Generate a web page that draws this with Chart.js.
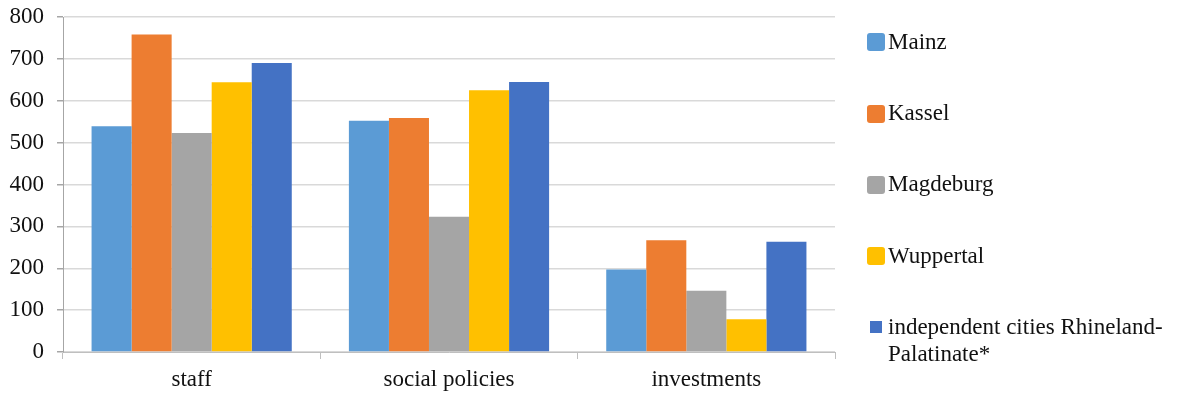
<!DOCTYPE html>
<html>
<head>
<meta charset="utf-8">
<script src="https://cdn.jsdelivr.net/npm/chart.js@4/dist/chart.umd.min.js"></script>
<style>
  html, body { margin: 0; padding: 0; background: #fff; }
  #wrap { position: relative; width: 1179px; height: 399px; }
  #c { position: absolute; left: 0; top: 0; }
  .sw { position: absolute; border-radius: 3px; }
  .tx { position: absolute; left: 888px; font-family: 'Liberation Serif', 'Times New Roman', serif; font-size: 23px; color: #111; line-height: 26px; white-space: nowrap; }
</style>
</head>
<body>
<div id="wrap">
  <canvas id="c" width="1179" height="399"></canvas>
  <div id="legend"></div>
</div>
<script>
const categories = ['staff', 'social policies', 'investments'];
const seriesNames = ['Mainz', 'Kassel', 'Magdeburg', 'Wuppertal', 'independent cities Rhineland-Palatinate*'];
const mainz = [539, 552, 197];
const kassel = [758, 559, 267];
const magdeburg = [523, 323, 146];
const wuppertal = [644, 625, 78];
const rhinelandPalatinate = [690, 645, 263];
const yTicks = [0, 100, 200, 300, 400, 500, 600, 700, 800];
const colors = ['#5B9BD5', '#ED7D31', '#A5A5A5', '#FFC000', '#4472C4'];

const values = [mainz, kassel, magdeburg, wuppertal, rhinelandPalatinate];
const font = { family: "'Liberation Serif', 'Times New Roman', serif", size: 23 };

new Chart(document.getElementById('c'), {
  type: 'bar',
  data: {
    labels: categories,
    datasets: seriesNames.map((n, i) => ({
      label: n,
      data: values[i],
      backgroundColor: colors[i],
      borderWidth: 0,
      categoryPercentage: 0.778,
      barPercentage: 1.0
    }))
  },
  options: {
    responsive: false,
    animation: false,
    layout: { padding: { left: 0, right: 344, top: 17, bottom: 0 } },
    plugins: { legend: { display: false }, tooltip: { enabled: false } },
    scales: {
      x: {
        grid: { offset: true, drawOnChartArea: false, tickLength: 7, color: '#bfbfbf' },
        border: { color: '#bfbfbf' },
        ticks: { color: '#111', font: font, padding: 7 },
        afterFit: s => { s.height = 47; s.paddingLeft = 0; s.paddingRight = 0; }
      },
      y: {
        min: 0, max: 800,
        afterBuildTicks: s => { s.ticks = yTicks.map(v => ({ value: v })); },
        grid: { color: '#d9d9d9', tickColor: '#a6a6a6', tickLength: 6, lineWidth: 1.5 },
        border: { color: '#a6a6a6' },
        ticks: { color: '#111', font: font, padding: 13 },
        afterFit: s => { s.width = 63; s.paddingTop = 0; s.paddingBottom = 0; }
      }
    }
  }
});

// legend layout (positions only)
const swatchBoxes = [[867, 33, 18, 18], [867, 105, 18, 18], [867, 176, 18, 18], [867, 247, 18, 18], [870, 321, 12, 12]];
const textBaselines = [49.5, 120.8, 191.8, 263.3, 334.3];
const leg = document.getElementById('legend');
seriesNames.forEach((n, i) => {
  const sw = document.createElement('div');
  sw.className = 'sw';
  const b = swatchBoxes[i];
  sw.style.left = b[0] + 'px'; sw.style.top = b[1] + 'px';
  sw.style.width = b[2] + 'px'; sw.style.height = b[3] + 'px';
  sw.style.background = colors[i];
  if (i === 4) sw.style.borderRadius = '0';
  const tx = document.createElement('div');
  tx.className = 'tx';
  tx.style.top = (textBaselines[i] - 20.8) + 'px';
  if (i === 4) {
    tx.style.lineHeight = '27.4px';
    tx.style.top = (textBaselines[i] - 21.5) + 'px';
    tx.innerHTML = 'independent cities Rhineland-<br>Palatinate*';
  } else {
    tx.textContent = n;
  }
  leg.appendChild(sw); leg.appendChild(tx);
});
</script>
</body>
</html>
